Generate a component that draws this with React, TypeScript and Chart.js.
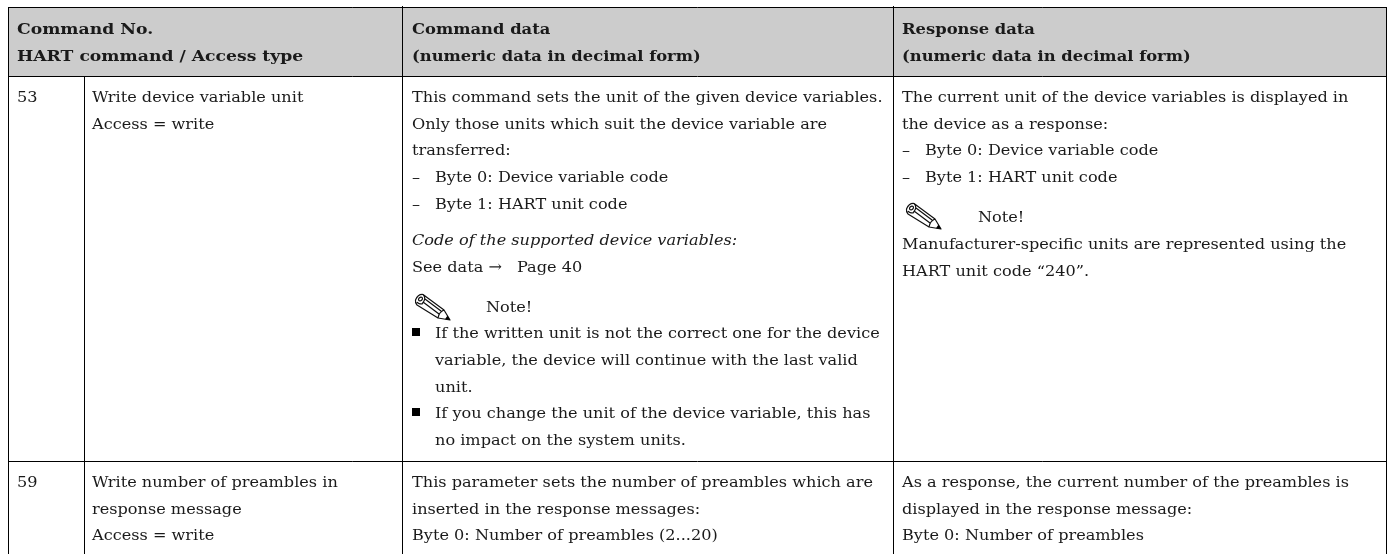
import React, { useEffect, useRef } from "react";
import { Chart, registerables } from "chart.js";

Chart.register(...registerables);

const FONT_FAMILY = '"DejaVu Serif"';
const INK = "#1a1a1a";
const RULE = "#000000";
const HEADER_FILL = "#cccccc";
const BODY_SIZE = 15.5;
const BODY_STRETCH = 1.04;
const BOLD_SIZE = 15.5;
const BOLD_STRETCH = 1.055;
const BOLD_STRETCH_FIRST = 1.11;

const firstHeaderCells: [number, number, string][] = [
  [17, 34, "Command No."],
  [17, 61, "HART command / Access type"],
];
const headerCells: [number, number, string][] = [
  [412, 34, "Command data"],
  [412, 61, "(numeric data in decimal form)"],
  [902, 34, "Response data"],
  [902, 61, "(numeric data in decimal form)"],
];
const bodyCells: [number, number, string][] = [
  [17, 102, "53"],
  [92, 102, "Write device variable unit"],
  [92, 129, "Access = write"],
  [412, 102, "This command sets the unit of the given device variables."],
  [412, 129, "Only those units which suit the device variable are"],
  [412, 155, "transferred:"],
  [412, 182, "–"],
  [435, 182, "Byte 0: Device variable code"],
  [412, 209, "–"],
  [435, 209, "Byte 1: HART unit code"],
  [412, 272, "See data →"],
  [517, 272, "Page 40"],
  [486, 312, "Note!"],
  [435, 338, "If the written unit is not the correct one for the device"],
  [435, 365, "variable, the device will continue with the last valid"],
  [435, 392, "unit."],
  [435, 418, "If you change the unit of the device variable, this has"],
  [435, 445, "no impact on the system units."],
  [902, 102, "The current unit of the device variables is displayed in"],
  [902, 129, "the device as a response:"],
  [902, 155, "–"],
  [925, 155, "Byte 0: Device variable code"],
  [902, 182, "–"],
  [925, 182, "Byte 1: HART unit code"],
  [978, 222, "Note!"],
  [902, 249, "Manufacturer-specific units are represented using the"],
  [902, 276, "HART unit code “240”."],
  [17, 487, "59"],
  [92, 487, "Write number of preambles in"],
  [92, 514, "response message"],
  [92, 540, "Access = write"],
  [412, 487, "This parameter sets the number of preambles which are"],
  [412, 514, "inserted in the response messages:"],
  [412, 540, "Byte 0: Number of preambles (2...20)"],
  [902, 487, "As a response, the current number of the preambles is"],
  [902, 514, "displayed in the response message:"],
  [902, 540, "Byte 0: Number of preambles"],
];
const italicCells: [number, number, string][] = [
  [412, 245, "Code of the supported device variables:"],
];
const squareBullets: [number, number][] = [
  [412, 328],
  [412, 408],
];
const noteIcons: [number, number][] = [
  [906, 203],
  [415, 294],
];
const rules: [number, number, number, number][] = [
  [8, 7.5, 1387, 7.5],
  [8, 76.5, 1387, 76.5],
  [8, 461.5, 1387, 461.5],
  [8.5, 7, 8.5, 554],
  [84.5, 76, 84.5, 554],
  [402.5, 6, 402.5, 554],
  [893.5, 6, 893.5, 554],
  [1386.5, 7, 1386.5, 554],
];
const headerBandX = [8, 1386];
const headerBandTop = [7, 7];
const headerBandBottom = [76, 76];

const textPlugin = {
  id: "tableText",
  afterDatasetsDraw(chart: any) {
    const { ctx, scales } = chart;
    const px = (v: number) => scales.x.getPixelForValue(v);
    const py = (v: number) => scales.y.getPixelForValue(v);
    const put = (cells: [number, number, string][], font: string, stretch: number) => {
      ctx.font = font;
      ctx.fillStyle = INK;
      ctx.textBaseline = "alphabetic";
      for (const [x, y, t] of cells) {
        ctx.save();
        ctx.translate(px(x), py(y));
        ctx.scale(stretch, 1);
        ctx.fillText(t, 0, 0);
        ctx.restore();
      }
    };
    ctx.save();
    put(bodyCells, `${BODY_SIZE}px ${FONT_FAMILY}`, BODY_STRETCH);
    put(italicCells, `italic ${BODY_SIZE}px ${FONT_FAMILY}`, BODY_STRETCH);
    put(headerCells, `bold ${BOLD_SIZE}px ${FONT_FAMILY}`, BOLD_STRETCH);
    put(firstHeaderCells, `bold ${BOLD_SIZE}px ${FONT_FAMILY}`, BOLD_STRETCH_FIRST);
    ctx.fillStyle = "#000";
    for (const [x, y] of squareBullets) ctx.fillRect(px(x), py(y), 8, 8);
    for (const [x, y] of noteIcons) {
      ctx.save();
      ctx.translate(px(x), py(y));
      ctx.strokeStyle = "#111";
      ctx.lineWidth = 1.2;
      ctx.lineJoin = "round";
      ctx.beginPath();
      ctx.moveTo(0.5, 6);
      ctx.quadraticCurveTo(3, 0, 8, 0.5);
      ctx.lineTo(29, 16);
      ctx.lineTo(35, 26);
      ctx.lineTo(23, 24);
      ctx.lineTo(2, 11);
      ctx.quadraticCurveTo(0, 9, 0.5, 6);
      ctx.closePath();
      ctx.moveTo(29, 16);
      ctx.quadraticCurveTo(24, 18, 23, 24);
      ctx.moveTo(8, 0.5);
      ctx.quadraticCurveTo(12, 4, 7, 10);
      ctx.quadraticCurveTo(3, 10, 2, 8);
      ctx.moveTo(10, 5);
      ctx.lineTo(26, 17);
      ctx.moveTo(8, 8);
      ctx.lineTo(24, 20);
      ctx.stroke();
      ctx.beginPath();
      ctx.ellipse(5.5, 5, 2.2, 1.6, -0.7, 0, Math.PI * 2);
      ctx.stroke();
      ctx.beginPath();
      ctx.moveTo(35, 26);
      ctx.lineTo(30, 25.2);
      ctx.lineTo(32.5, 21.5);
      ctx.closePath();
      ctx.fillStyle = "#000";
      ctx.fill();
      ctx.restore();
    }
    ctx.restore();
  },
};

export default function App() {
  const ref = useRef<HTMLCanvasElement>(null);
  useEffect(() => {
    document.body.style.margin = "0";
    const datasets: any[] = [
      ...rules.map(([x0, y0, x1, y1]) => ({
        data: [
          { x: x0, y: y0 },
          { x: x1, y: y1 },
        ],
        borderColor: RULE,
        borderWidth: 1,
        pointRadius: 0,
        fill: false,
      })),
      {
        data: [
          { x: headerBandX[0], y: headerBandTop[0] },
          { x: headerBandX[1], y: headerBandTop[1] },
        ],
        borderWidth: 0,
        pointRadius: 0,
        backgroundColor: HEADER_FILL,
        fill: { value: headerBandBottom[0] },
      },
    ];
    const chart = new Chart(ref.current!, {
      type: "line",
      data: { datasets },
      plugins: [textPlugin],
      options: {
        animation: false,
        responsive: false,
        layout: { padding: 0 },
        plugins: { legend: { display: false }, tooltip: { enabled: false }, title: { display: false } },
        scales: {
          x: { type: "linear", min: 0, max: 1391, display: false },
          y: { type: "linear", min: 0, max: 554, reverse: true, display: false },
        },
      },
    } as any);
    return () => chart.destroy();
  }, []);
  return (
    <canvas
      ref={ref}
      width={1391}
      height={554}
      style={{ position: "absolute", left: 0, top: 0, width: 1391, height: 554, display: "block" }}
    />
  );
}
